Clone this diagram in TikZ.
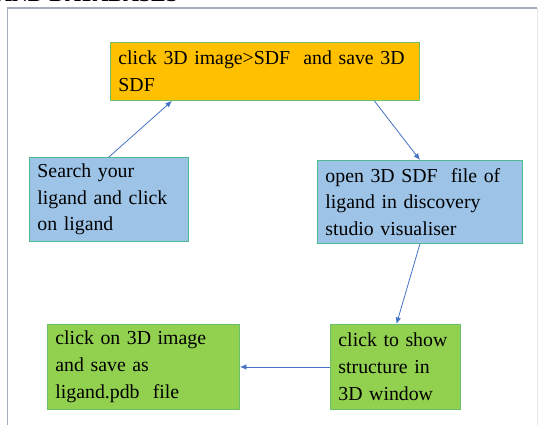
\documentclass[tikz,border=0pt]{standalone}
\usepackage{fontspec}
\setmainfont{Liberation Serif}
\usetikzlibrary{arrows.meta,calc}
\definecolor{amber}{HTML}{FFC000}
\definecolor{skyfill}{HTML}{9DC3E6}
\definecolor{leaf}{HTML}{92D050}
\definecolor{edgegreen}{HTML}{6CC06C}
\definecolor{edgeteal}{HTML}{4DBB8E}
\definecolor{flowblue}{HTML}{4472C4}
\definecolor{framegray}{HTML}{A5ADB8}
\tikzset{
  stepbox/.style={draw, line width=0.9pt, inner xsep=8pt, inner ysep=2pt,
    align=left, anchor=north west,
    font=\fontsize{19.8}{26.8}\selectfont},
  flow/.style={draw=flowblue, line width=0.8pt, -{Latex[length=6.5pt,width=5.5pt]}}
}
\begin{document}
\begin{tikzpicture}[x=1pt,y=-1pt]
\useasboundingbox (0,0) rectangle (540,425);
\begin{scope}
\clip (0,0) rectangle (540,425);
% heading above the frame, cut by the page edge
\node[anchor=base west, inner sep=0pt, font=\fontsize{22}{26}\bfseries\selectfont] (heading) at (-4,1.5) {AND DATABASES};
\end{scope}
% frame
\draw[framegray, line width=1.2pt] (7.5,425) -- (7.5,8) -- (537,8);
\draw[framegray!30, line width=0.6pt] (537.5,8) -- (537.5,425);

% boxes
\node[stepbox, draw=edgegreen, fill=amber, text width=293pt, minimum height=58pt] (sdf) at (110,42)
  {click 3D image>SDF\ \ and save 3D\\SDF};
\node[stepbox, draw=edgeteal, fill=skyfill, text width=143pt, minimum height=84pt] (search) at (29,157)
  {Search your\\ligand and click\\on ligand};
\node[stepbox, draw=edgeteal, fill=skyfill, text width=189pt, minimum height=83pt] (open) at (317,160)
  {open 3D SDF\ \ file of\\ligand in discovery\\studio visualiser};
\node[stepbox, draw=edgegreen, fill=leaf, text width=114pt, minimum height=85pt] (show) at (330,324)
  {click to show\\structure in\\3D window};
\node[stepbox, draw=edgegreen, fill=leaf, text width=176pt, minimum height=85pt] (save) at (47,324)
  {click on 3D image\\and save as\\ligand.pdb\ \ file};

% connectors
\draw[flow] (search.north) -- ($(sdf.south west)!0.2!(sdf.south east)$);
\draw[flow] ($(sdf.south west)!0.853!(sdf.south east)$) -- (open.north);
\draw[flow] (open.south) -- ($(show.north west)!0.508!(show.north east)$);
\draw[flow] (show.west) -- (save.east);
\end{tikzpicture}
\end{document}
